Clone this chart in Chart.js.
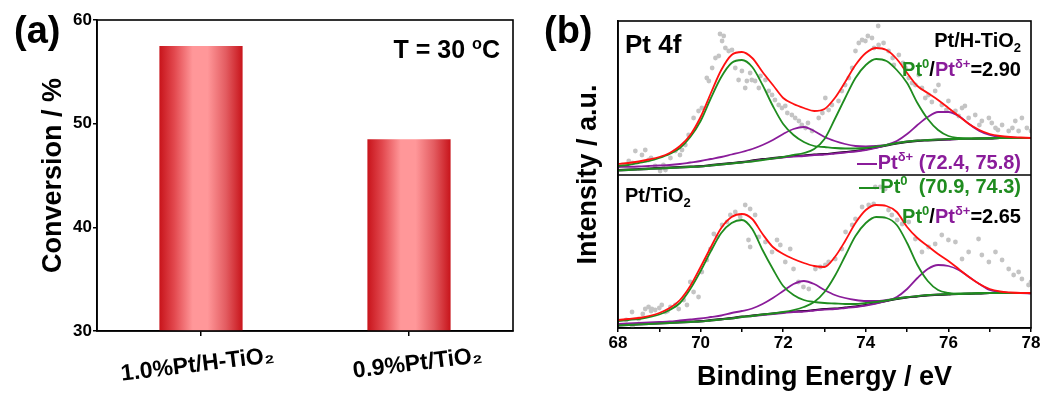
<!DOCTYPE html>
<html>
<head>
<meta charset="utf-8">
<script src="https://cdn.jsdelivr.net/npm/chart.js@4.4.0/dist/chart.umd.min.js"></script>
<style>
  body { margin: 0; background: #fff; width: 1046px; height: 396px; position: relative; overflow: hidden;
         font-family: "Liberation Sans", Arial, sans-serif; font-weight: bold; color: #000; }
  canvas { position: absolute; top: 0; }
  #chartA { left: 0; }
  #chartB { left: 530px; }
  .t { position: absolute; white-space: nowrap; line-height: 1; z-index: 2; }
  sup, sub { font-size: 65%; line-height: 0; }
  .grn { color: #1f8c1f; }
  .pur { color: #8a1c9a; }
  .dash { display: inline-block; width: 20px; height: 2px; vertical-align: middle; margin-right: 1px; }
</style>
</head>
<body>
<canvas id="chartA" width="530" height="396"></canvas>
<canvas id="chartB" width="516" height="396"></canvas>

<div class="t" style="left:14px;top:11px;font-size:38px">(a)</div>
<div class="t" style="left:544px;top:11px;font-size:38px">(b)</div>
<div class="t" style="right:546px;top:37px;font-size:25px">T = 30 <sup>o</sup>C</div>

<div class="t" style="left:625px;top:31px;font-size:26px">Pt 4f</div>
<div class="t" style="right:25px;top:30px;font-size:20px">Pt/H-TiO<sub>2</sub></div>
<div class="t" style="right:25px;top:59px;font-size:20px"><span class="grn">Pt<sup>0</sup></span>/<span class="pur">Pt<sup>δ+</sup></span>=2.90</div>
<div class="t pur" style="right:25px;top:152px;font-size:20px"><span class="dash" style="background:#8a1c9a"></span>Pt<sup>δ+</sup> (72.4, 75.8)</div>
<div class="t grn" style="right:25px;top:176px;font-size:20px"><span class="dash" style="background:#1f8c1f"></span>Pt<sup>0</sup>&nbsp; (70.9, 74.3)</div>
<div class="t" style="right:25px;top:206px;font-size:20px"><span class="grn">Pt<sup>0</sup></span>/<span class="pur">Pt<sup>δ+</sup></span>=2.65</div>
<div class="t" style="left:625px;top:185px;font-size:20px">Pt/TiO<sub>2</sub></div>

<script>
// ---- panel (a): conversion ----
const catLabels = ['1.0%Pt/H-TiO₂', '0.9%Pt/TiO₂'];
const conversion = [57.5, 48.5];
const convMin = 30, convMax = 60, convStep = 10;

// ---- panel (b): Pt 4f XPS, intensity in a.u. (bottom spectrum 0-153, top spectrum 153-307) ----
const energy = [68, 68.25, 68.5, 68.75, 69, 69.25, 69.5, 69.75, 70, 70.25,
                70.5, 70.75, 71, 71.25, 71.5, 71.75, 72, 72.25, 72.5, 72.75,
                73, 73.25, 73.5, 73.75, 74, 74.25, 74.5, 74.75, 75, 75.25,
                75.5, 75.75, 76, 76.25, 76.5, 76.75, 77, 77.25, 77.5, 77.75, 78];
const panelSplit = 153, intensityMax = 307;

// Pt/H-TiO2 (top)
const topEnvelope = [164, 165, 166.5, 168.5, 171, 175, 182, 193, 211, 235,
                     258, 273, 276, 270, 256, 243, 230, 224, 220, 217,
                     219, 230, 246, 263, 275, 280, 278, 269, 255, 242,
                     235, 228, 220, 212, 204, 198, 194, 192, 191, 190.5, 190];
const topPt0a = [162, 163, 165, 167, 170, 174, 180, 191, 207, 230,
                 251, 265, 268, 261, 243, 222, 204, 193, 186, 182,
                 181, 180, 179.5, 179.5, 180, 181.5, 183, 185, 186.5, 187.5,
                 188, 188.5, 189, 189, 189.5, 189.5, 190, 190, 190, 190, 190];
const topPt0b = [157.5, 158, 158.5, 159, 159.5, 160, 160.5, 161, 161.5, 162.5,
                 163.5, 164.5, 165.5, 166.5, 168, 169.5, 171, 173, 175, 179,
                 189, 209, 230, 250, 263, 269, 267, 258, 245, 225,
                 209, 198, 192, 190, 189.5, 189.5, 189.5, 190, 190, 190, 190];
const topPtda = [161, 161.2, 161.5, 162, 162.5, 163, 164, 165.5, 167, 169,
                 171, 173.5, 176, 179, 183, 188, 194, 199, 201, 197,
                 191, 187, 184, 182, 181.5, 182, 183, 185, 186.5, 187.5,
                 188, 188.5, 188.5, 189, 189, 189.5, 189.5, 190, 190, 190, 190];
const topPtdb = [157.5, 158, 158.5, 159, 159.5, 160, 160.5, 161, 161.5, 162.5,
                 163.5, 164.5, 165.5, 167, 168.5, 169.5, 170.5, 171.5, 172, 173,
                 173.5, 174.5, 175.5, 176.5, 178, 180, 183, 187, 194, 203,
                 211, 216, 216, 212, 204, 197, 193, 191, 190.5, 190, 190];
const topBackground = [158, 158.5, 159, 159.5, 160, 160.5, 161, 161.5, 162, 163,
                       164, 165, 166, 167.5, 169, 170, 171, 172, 172.5, 173.5,
                       174, 175, 176, 177, 178.5, 180.5, 182.5, 184.5, 186, 187,
                       187.5, 188, 188.5, 189, 189, 189.5, 189.5, 190, 190, 190, 190];
const topRawE = [68.1, 68.26, 68.35, 68.42, 68.58, 68.66, 68.74, 68.8, 68.9, 69.02, 69.1, 69.15, 69.27, 69.39, 69.5, 69.55,
                 69.63, 69.71, 69.83, 69.95, 70.03, 70.15, 70.2, 70.28, 70.36, 70.44, 70.47, 70.52, 70.56, 70.6,
                 70.68, 70.76, 70.84, 70.92, 71.0, 71.08, 71.12, 71.2, 71.24, 71.32, 71.41, 71.45, 71.57, 71.65,
                 71.73, 71.8, 71.89, 71.97, 72.05, 72.1, 72.21, 72.29, 72.38, 72.45, 72.54, 72.6, 72.7, 72.86,
                 72.95, 73.02, 73.1, 73.18, 73.34, 73.42, 73.5, 73.59, 73.67, 73.75, 73.83, 73.91, 73.99, 74.05,
                 74.15, 74.2, 74.3, 74.31, 74.43, 74.55, 74.65, 74.68, 74.8, 74.9, 74.96, 75.04, 75.12, 75.2,
                 75.28, 75.36, 75.44, 75.52, 75.6, 75.68, 75.76, 75.84, 75.95, 76.0, 76.17, 76.25, 76.33, 76.4,
                 76.49, 76.65, 76.75, 76.81, 76.98, 77.05, 77.14, 77.2, 77.3, 77.46, 77.55, 77.62, 77.7, 77.78,
                 77.9, 78.0];
const topRawI = [163, 167, 165, 177, 173, 178, 168, 170, 162, 157, 163, 158, 170, 177, 173, 178,
                 183, 193, 210, 217, 220, 250, 247, 260, 270, 272, 294, 287, 292, 280,
                 277, 278, 260, 248, 257, 240, 247, 255, 248, 247, 240, 252, 248, 237,
                 233, 228, 223, 220, 222, 215, 213, 210, 207, 203, 200, 205, 197, 210,
                 215, 230, 218, 223, 227, 237, 243, 250, 260, 277, 285, 288, 287, 292,
                 290, 280, 302, 283, 285, 277, 270, 263, 273, 265, 260, 250, 245, 243,
                 253, 240, 230, 233, 226, 237, 243, 223, 218, 227, 217, 212, 220, 222,
                 210, 213, 203, 207, 210, 205, 200, 198, 203, 197, 200, 207, 197, 210,
                 200, 197];

// Pt/TiO2 (bottom)
const botEnvelope = [8, 9, 10, 12, 15, 20, 28, 42, 61, 81,
                     100, 111, 114, 109, 94, 81, 74, 69, 65, 62,
                     61, 71, 87, 105, 118, 123, 122, 116, 101, 90,
                     82, 74, 67, 59, 51, 44, 39, 36.5, 35.5, 35, 35];
const botPt0a = [7, 8, 9, 11, 13.5, 18, 25, 39, 57, 77,
                 95, 105, 108, 99, 78, 59, 42, 33, 28, 26,
                 25, 24.5, 24, 24, 25, 26, 27.5, 29.5, 31, 32,
                 33, 33.5, 34, 34.5, 34.5, 35, 35, 35, 35, 35, 35];
const botPt0b = [2.5, 3, 3.5, 4, 4.5, 5, 5.5, 6, 6.5, 7.5,
                 8.5, 9.5, 11, 12, 13.5, 14.5, 16, 18, 21, 26,
                 36, 52, 72, 92, 105, 111, 110, 103, 85, 63,
                 47, 38, 35, 34, 34.5, 34.5, 35, 35, 35, 35, 35];
const botPtda = [4, 4.5, 5, 5.5, 6, 6.5, 7.5, 8.5, 9.5, 11,
                 12.5, 15, 17, 19.5, 24, 30, 37, 44, 47, 44,
                 38, 33, 30, 28, 27, 27, 28, 29.5, 31, 32,
                 33, 33.5, 34, 34, 34.5, 34.5, 35, 35, 35, 35, 35];
const botPtdb = [2.5, 3, 3.5, 4, 4.5, 5, 5.5, 6, 6.5, 7.5,
                 8.5, 9.5, 11, 12, 13, 14, 15, 16, 16.5, 17.5,
                 18.5, 19, 20, 21, 22.5, 24.5, 27, 31, 39, 50,
                 59, 63, 62, 58, 51, 44, 38, 36, 35, 35, 34.5];
const botBackground = [3, 3.5, 4, 4.5, 5, 5.5, 6, 6.5, 7, 8,
                       9, 10, 11.5, 12.5, 13.5, 14.5, 15.5, 16.5, 17, 18,
                       19, 19.5, 20.5, 21.5, 23, 25, 27, 29, 30.5, 31.5,
                       32.5, 33, 33.5, 34, 34, 34.5, 35, 35, 35, 35, 35];
const botRawE = [68.2, 68.34, 68.35, 68.5, 68.6, 68.66, 68.74, 68.8, 68.82, 68.9, 69.0, 69.06, 69.15, 69.2, 69.27, 69.39,
                 69.47, 69.59, 69.67, 69.75, 69.83, 69.95, 70.03, 70.15, 70.24, 70.32, 70.4, 70.52, 70.64, 70.72,
                 70.84, 70.96, 71.08, 71.16, 71.2, 71.2, 71.32, 71.41, 71.57, 71.73, 71.85, 71.93, 72.05, 72.17,
                 72.25, 72.37, 72.49, 72.62, 72.78, 72.9, 73.02, 73.1, 73.26, 73.42, 73.51, 73.67, 73.75, 73.91,
                 74.07, 74.19, 74.23, 74.35, 74.47, 74.55, 74.63, 74.76, 74.88, 75.04, 75.2, 75.36, 75.52, 75.68,
                 75.84, 76.0, 76.17, 76.33, 76.49, 76.73, 76.81, 76.98, 77.14, 77.3, 77.46, 77.58, 77.7, 77.78,
                 77.94, 78.0];
const botRawI = [8, 16, 2, 9, 14, 19, 21, 17, 19, 18, 20, 23, 16, 17, 21, 23,
                 19, 28, 23, 46, 36, 31, 56, 68, 79, 94, 91, 103, 106, 113,
                 116, 111, 123, 88, 119, 81, 113, 91, 86, 76, 88, 83, 66, 79,
                 59, 46, 41, 39, 59, 61, 63, 66, 69, 79, 96, 103, 109, 121,
                 123, 124, 141, 141, 139, 118, 113, 108, 104, 106, 89, 76, 81, 84,
                 93, 88, 86, 69, 76, 89, 73, 66, 76, 68, 59, 53, 56, 49,
                 43, 46];

const FONT = '"Liberation Sans", Arial, sans-serif';
const RED = '#ff1010', GREEN = '#1f8c1f', PURPLE = '#8a1c9a', DOT = '#c4c4c4';
const barShare = 0.4;

// box around the plot area (+ optional horizontal divider)
const framePlugin = {
  id: 'frame',
  afterDraw(chart, args, opts) {
    const { ctx, chartArea: a } = chart;
    ctx.save();
    ctx.strokeStyle = '#000';
    ctx.lineWidth = 1.6;
    ctx.strokeRect(a.left, a.top, a.right - a.left, a.bottom - a.top);
    if (opts.divider != null) {
      const y = chart.scales.y.getPixelForValue(opts.divider);
      ctx.beginPath();
      ctx.moveTo(a.left, y);
      ctx.lineTo(a.right, y);
      ctx.stroke();
    }
    ctx.restore();
  }
};

// horizontal "cylinder" shading of each bar
function barFill(context) {
  const chart = context.chart;
  const area = chart.chartArea;
  const xs = chart.scales.x;
  if (!area || !xs || context.dataIndex === undefined) return '#d8383c';
  const c = xs.getPixelForValue(context.dataIndex);
  if (!isFinite(c)) return '#d8383c';
  const w = (area.right - area.left) / catLabels.length * barShare;
  const g = chart.ctx.createLinearGradient(c - w / 2, 0, c + w / 2, 0);
  g.addColorStop(0, '#c8141b');
  g.addColorStop(0.18, '#e2484e');
  g.addColorStop(0.4, '#ff9799');
  g.addColorStop(0.58, '#ff9799');
  g.addColorStop(0.8, '#e35c61');
  g.addColorStop(1, '#c8141b');
  return g;
}

new Chart(document.getElementById('chartA'), {
  type: 'bar',
  data: {
    labels: catLabels,
    datasets: [{
      data: conversion,
      backgroundColor: barFill,
      borderWidth: 0,
      barPercentage: barShare,
      categoryPercentage: 1
    }]
  },
  options: {
    responsive: false,
    animation: false,
    layout: { padding: { top: 20, right: 17, left: 0, bottom: 0 } },
    plugins: { legend: { display: false }, tooltip: { enabled: false } },
    scales: {
      x: {
        grid: { display: true, drawOnChartArea: false, offset: false, tickLength: 5, color: '#000', lineWidth: 1.5 },
        border: { color: '#000', width: 1.6 },
        ticks: { minRotation: 7, maxRotation: 7, labelOffset: 73, padding: 6, color: '#000',
                 font: { family: FONT, size: 23, weight: 'bold' } },
        afterFit: s => { s.height = 65; }
      },
      y: {
        min: convMin, max: convMax,
        grid: { display: true, drawOnChartArea: false, tickLength: 4, color: '#000', lineWidth: 1.5 },
        border: { color: '#000', width: 1.6 },
        ticks: { stepSize: convStep, padding: 1, color: '#000', font: { family: FONT, size: 17, weight: 'bold' } },
        title: { display: true, text: 'Conversion / %', color: '#000', padding: { top: 37, bottom: 0 },
                 font: { family: FONT, size: 27, weight: 'bold' } },
        afterFit: s => { s.width = 97; }
      }
    }
  },
  plugins: [framePlugin]
});

function curve(ys, color, order) {
  return {
    data: energy.map((e, i) => ({ x: e, y: ys[i] })),
    showLine: true, borderColor: color, borderWidth: 1.8, pointRadius: 0,
    cubicInterpolationMode: 'monotone', order: order
  };
}
function dots(es, is) {
  return {
    data: es.map((e, i) => ({ x: e, y: is[i] })),
    showLine: false, pointRadius: 2.4, pointBackgroundColor: DOT, pointBorderWidth: 0, order: 9
  };
}

new Chart(document.getElementById('chartB'), {
  type: 'scatter',
  data: {
    datasets: [
      dots(topRawE, topRawI),
      dots(botRawE, botRawI),
      curve(topBackground, '#000', 5),
      curve(botBackground, '#000', 5),
      curve(topPtda, PURPLE, 4),
      curve(topPtdb, PURPLE, 4),
      curve(botPtda, PURPLE, 4),
      curve(botPtdb, PURPLE, 4),
      curve(topPt0a, GREEN, 3),
      curve(topPt0b, GREEN, 3),
      curve(botPt0a, GREEN, 3),
      curve(botPt0b, GREEN, 3),
      curve(topEnvelope, RED, 1),
      curve(botEnvelope, RED, 1)
    ]
  },
  options: {
    responsive: false,
    animation: false,
    layout: { padding: { top: 21, right: 15, left: 0, bottom: 0 } },
    plugins: { legend: { display: false }, tooltip: { enabled: false }, frame: { divider: panelSplit } },
    scales: {
      x: {
        type: 'linear', min: 68, max: 78,
        grid: { display: true, drawOnChartArea: false, tickLength: 4, color: '#000', lineWidth: 1.5 },
        border: { color: '#000', width: 1.6 },
        ticks: { stepSize: 1, autoSkip: false, padding: 1, color: '#000',
                 callback: v => (v % 2 === 0 ? v : ''),
                 font: { family: FONT, size: 17, weight: 'bold' } },
        title: { display: true, text: 'Binding Energy / eV', color: '#000', padding: { top: 0, bottom: 2 },
                 font: { family: FONT, size: 27, weight: 'bold' } },
        afterFit: s => { s.height = 68; }
      },
      y: {
        min: 0, max: intensityMax,
        grid: { display: false },
        border: { color: '#000', width: 1.6 },
        ticks: { display: false },
        title: { display: true, text: 'Intensity / a.u.', color: '#000', padding: { top: 42, bottom: 0 },
                 font: { family: FONT, size: 27, weight: 'bold' } },
        afterFit: s => { s.width = 88; }
      }
    }
  },
  plugins: [framePlugin]
});
</script>
</body>
</html>
